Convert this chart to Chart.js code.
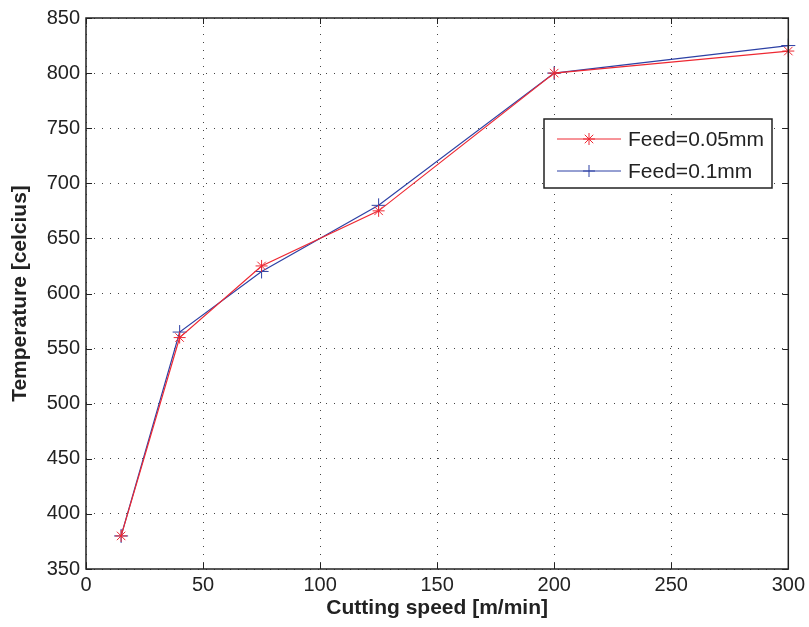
<!DOCTYPE html>
<html>
<head>
<meta charset="utf-8">
<script src="https://cdn.jsdelivr.net/npm/chart.js@4"></script>
<style>
  html, body { margin: 0; padding: 0; background: #fff; }
  #wrap { width: 809px; height: 627px; }
</style>
</head>
<body>
<div id="wrap"><canvas id="myChart" width="809" height="627"></canvas></div>
<script>
// data
const speed = [15, 40, 75, 125, 200, 300];
const feed005 = [380, 560, 625, 675, 800, 820];
const feed01 = [380, 565, 620, 680, 800, 825];
const xTicks = [0, 50, 100, 150, 200, 250, 300];
const yTicks = [350, 400, 450, 500, 550, 600, 650, 700, 750, 800, 850];

const red = 'rgb(238, 40, 50)';
const blue = 'rgb(45, 65, 165)';
const font = 'Liberation Sans, Arial, sans-serif';

function pts(ys) {
  return speed.map((x, i) => ({ x: x, y: ys[i] }));
}

// box round plot + inward ticks + legend inside
const frame = {
  id: 'frame',
  afterDraw(chart) {
    const c = chart.ctx, a = chart.chartArea;
    const sx = chart.scales.x, sy = chart.scales.y;
    c.save();
    c.strokeStyle = '#222';
    c.lineWidth = 1.5;
    c.strokeRect(a.left, a.top, a.right - a.left, a.bottom - a.top);
    c.lineWidth = 1;
    c.beginPath();
    xTicks.forEach(v => {
      const px = Math.round(sx.getPixelForValue(v)) + 0.5;
      c.moveTo(px, a.bottom); c.lineTo(px, a.bottom - 6);
      c.moveTo(px, a.top); c.lineTo(px, a.top + 6);
    });
    yTicks.forEach(v => {
      const py = Math.round(sy.getPixelForValue(v)) + 0.5;
      c.moveTo(a.left, py); c.lineTo(a.left + 6, py);
      c.moveTo(a.right, py); c.lineTo(a.right - 6, py);
    });
    c.stroke();

    // legend
    const lx = 544, ly = 119, lw = 228, lh = 69;
    c.fillStyle = '#fff';
    c.fillRect(lx, ly, lw, lh);
    c.lineWidth = 1.5;
    c.strokeStyle = '#222';
    c.strokeRect(lx, ly, lw, lh);
    chart.data.datasets.forEach((ds, i) => {
      const yy = ly + 20 + i * 32;
      c.strokeStyle = ds.borderColor;
      c.lineWidth = 1;
      c.beginPath();
      c.moveTo(557, yy); c.lineTo(621, yy);
      c.stroke();
      Chart.helpers.drawPoint(c, { pointStyle: ds.pointStyle, radius: 6, borderWidth: 1 }, 589, yy);
      c.fillStyle = '#222';
      c.font = '21px ' + font;
      c.textBaseline = 'middle';
      c.textAlign = 'left';
      c.fillText(ds.label, 628, yy + 1);
    });
    c.restore();
  }
};

new Chart(document.getElementById('myChart'), {
  type: 'scatter',
  data: {
    datasets: [{
      label: 'Feed=0.05mm',
      data: pts(feed005),
      showLine: true,
      clip: false,
      borderColor: red,
      backgroundColor: red,
      borderWidth: 1.2,
      pointStyle: 'star',
      pointRadius: 6,
      pointBorderWidth: 1,
      pointBorderColor: red
    }, {
      label: 'Feed=0.1mm',
      data: pts(feed01),
      showLine: true,
      clip: false,
      borderColor: blue,
      backgroundColor: blue,
      borderWidth: 1.2,
      pointStyle: 'cross',
      pointRadius: 7,
      pointBorderWidth: 1,
      pointBorderColor: blue
    }]
  },
  options: {
    responsive: false,
    animation: false,
    layout: { padding: { top: 15, right: 20, left: 0, bottom: 0 } },
    plugins: {
      legend: { display: false },
      tooltip: { enabled: false }
    },
    scales: {
      x: {
        type: 'linear',
        min: 0, max: 300,
        afterBuildTicks: s => { s.ticks = xTicks.map(v => ({ value: v })); },
        afterFit: s => { s.height = 58; },
        grid: { color: '#444', lineWidth: 1, drawTicks: false },
        border: { display: false, dash: [1, 7] },
        ticks: { color: '#222', font: { family: font, size: 20 }, padding: 4, maxRotation: 0 },
        title: {
          display: true, text: 'Cutting speed [m/min]', color: '#222',
          font: { family: font, size: 21, weight: 'bold' }, padding: { top: 0, bottom: 6 }
        }
      },
      y: {
        min: 350, max: 850,
        afterBuildTicks: s => { s.ticks = yTicks.map(v => ({ value: v })); },
        afterFit: s => { s.width = 86; },
        grid: { color: '#444', lineWidth: 1, drawTicks: false },
        border: { display: false, dash: [1, 7] },
        ticks: { color: '#222', font: { family: font, size: 20 }, padding: 6 },
        title: {
          display: true, text: 'Temperature [celcius]', color: '#222',
          font: { family: font, size: 21, weight: 'bold' }, padding: { top: 8, bottom: 0 }
        }
      }
    }
  },
  plugins: [frame]
});
</script>
</body>
</html>
